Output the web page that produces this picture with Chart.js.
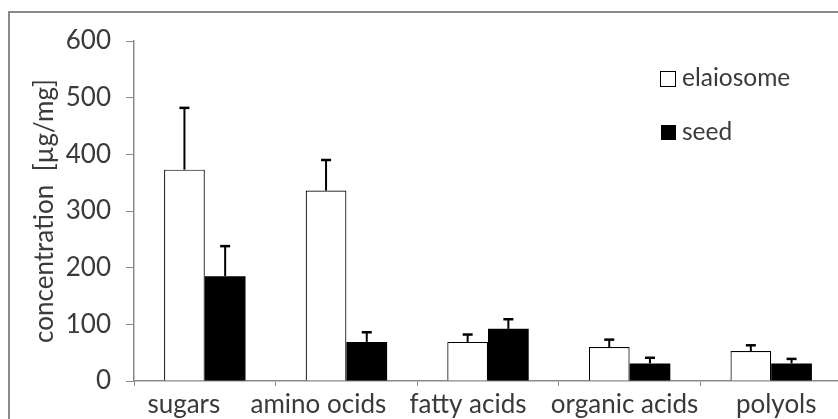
<!DOCTYPE html>
<html>
<head>
<meta charset="utf-8">
<script src="https://cdn.jsdelivr.net/npm/chart.js@4/dist/chart.umd.min.js"></script>
<style>
html,body{margin:0;padding:0;background:#fff;overflow:hidden;width:838px;height:419px;}
#frame{position:absolute;left:8px;top:11px;width:900px;height:500px;border-left:2px solid #8a8a8a;border-top:2px solid #8a8a8a;box-sizing:border-box;}
canvas{position:absolute;left:0;top:0;}
</style>
</head>
<body>
<div id="frame"></div>
<canvas id="c" width="850" height="430"></canvas>
<script>
const categories = ["sugars", "amino ocids", "fatty acids", "organic acids", "polyols"];
const seriesNames = ["elaiosome", "seed"];
const elaiosome = [373, 336, 69, 60, 53];
const elaiosomeErr = [109, 54, 13, 13, 10];
const seed = [185, 69, 92, 31, 31];
const seedErr = [53, 17, 17, 10, 8];
const yTicks = [0, 100, 200, 300, 400, 500, 600];

const FONT = "Lato, 'Open Sans', sans-serif";
const TXT = "#3a3a3a";
// horizontal nudges of the category labels as placed in the original figure
const labelShift = [-21, -28, -20, -5, 5];

const errorBars = {
  id: 'errorBars',
  afterDatasetsDraw(chart) {
    const ctx = chart.ctx;
    const ys = chart.scales.y;
    chart.data.datasets.forEach((ds, i) => {
      const meta = chart.getDatasetMeta(i);
      meta.data.forEach((bar, j) => {
        const top = ys.getPixelForValue(ds.data[j] + ds.errors[j]);
        ctx.save();
        ctx.strokeStyle = '#000';
        ctx.lineWidth = 2;
        ctx.beginPath();
        ctx.moveTo(bar.x, bar.y);
        ctx.lineTo(bar.x, top);
        ctx.stroke();
        ctx.lineWidth = 2.5;
        ctx.beginPath();
        ctx.moveTo(bar.x - 5, top);
        ctx.lineTo(bar.x + 5, top);
        ctx.stroke();
        ctx.restore();
      });
    });
  }
};

const xLabels = {
  id: 'xLabels',
  afterDraw(chart) {
    const ctx = chart.ctx;
    const xs = chart.scales.x;
    ctx.save();
    ctx.font = "26px " + FONT;
    ctx.fillStyle = TXT;
    ctx.textAlign = 'center';
    ctx.textBaseline = 'middle';
    chart.data.labels.forEach((lab, i) => {
      ctx.fillText(lab, xs.getPixelForTick(i) + labelShift[i], xs.top + 24);
    });
    ctx.restore();
  }
};

const legendPlugin = {
  id: 'customLegend',
  afterDraw(chart) {
    const ctx = chart.ctx;
    ctx.save();
    ctx.font = "24.5px " + FONT;
    ctx.textBaseline = 'middle';
    ctx.textAlign = 'left';
    ctx.fillStyle = '#fff';
    ctx.fillRect(660.5, 71.5, 15, 15);
    ctx.strokeStyle = '#000';
    ctx.lineWidth = 1;
    ctx.strokeRect(660.5, 71.5, 15, 15);
    ctx.fillStyle = TXT;
    ctx.fillText(seriesNames[0], 682, 78);
    ctx.fillStyle = '#000';
    ctx.fillRect(661, 125, 15, 15);
    ctx.fillStyle = TXT;
    ctx.fillText(seriesNames[1], 682, 132);
    ctx.restore();
  }
};

new Chart(document.getElementById('c'), {
  type: 'bar',
  data: {
    labels: categories,
    datasets: [
      { label: seriesNames[0], data: elaiosome, errors: elaiosomeErr, backgroundColor: '#fff', borderColor: '#000', borderWidth: 1.2 },
      { label: seriesNames[1], data: seed, errors: seedErr, backgroundColor: '#000', borderColor: '#000', borderWidth: 0 }
    ]
  },
  options: {
    responsive: false,
    animation: false,
    layout: { padding: { left: 0, top: 41, right: 8, bottom: 0 } },
    plugins: { legend: { display: false }, tooltip: { enabled: false } },
    datasets: { bar: { barPercentage: 1, categoryPercentage: 0.575 } },
    scales: {
      x: {
        grid: { drawOnChartArea: false, color: '#8a8a8a', tickLength: 5, offset: true },
        border: { color: '#8a8a8a', width: 1.5 },
        ticks: { display: false },
        afterFit(s) { s.height = 49; }
      },
      y: {
        min: 0, max: 600,
        afterBuildTicks(s) { s.ticks = yTicks.map(v => ({ value: v })); },
        grid: { drawOnChartArea: false, color: '#8a8a8a', tickLength: 8 },
        border: { color: '#8a8a8a', width: 1.5 },
        ticks: { color: TXT, font: { family: FONT, size: 26 }, padding: 15 },
        title: { display: true, text: 'concentration  [µg/mg]', color: TXT, font: { family: FONT, size: 26 }, padding: { top: 29, bottom: 0 } },
        afterFit(s) { s.width = 134; }
      }
    }
  },
  plugins: [errorBars, xLabels, legendPlugin]
});
</script>
</body>
</html>
